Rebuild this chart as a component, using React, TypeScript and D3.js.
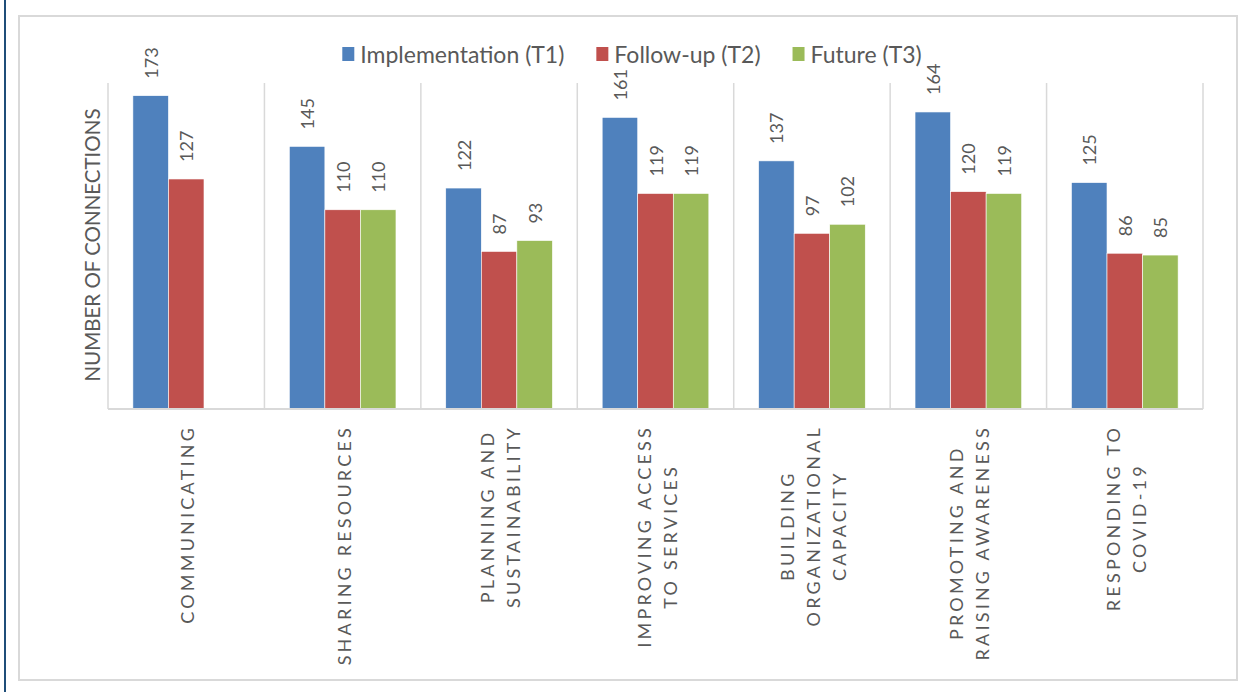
import React, { useEffect, useRef } from "react";
import * as d3 from "d3";

const categories = [
  "COMMUNICATING",
  "SHARING RESOURCES",
  "PLANNING AND SUSTAINABILITY",
  "IMPROVING ACCESS TO SERVICES",
  "BUILDING ORGANIZATIONAL CAPACITY",
  "PROMOTING AND RAISING AWARENESS",
  "RESPONDING TO COVID-19",
];
const categoryLines = [
  ["COMMUNICATING"],
  ["SHARING RESOURCES"],
  ["PLANNING AND", "SUSTAINABILITY"],
  ["IMPROVING ACCESS", "TO SERVICES"],
  ["BUILDING", "ORGANIZATIONAL", "CAPACITY"],
  ["PROMOTING AND", "RAISING AWARENESS"],
  ["RESPONDING TO", "COVID-19"],
];
const seriesNames = ["Implementation (T1)", "Follow-up (T2)", "Future (T3)"];
const seriesColors = ["#4f81bd", "#c0504d", "#9bbb59"];
const implementationT1 = [173, 145, 122, 161, 137, 164, 125];
const followUpT2 = [127, 110, 87, 119, 97, 120, 86];
const futureT3: (number | null)[] = [null, 110, 93, 119, 102, 119, 85];
const yMax = 180;
const yTitle = "NUMBER OF CONNECTIONS";

const FONT = "Lato, 'Open Sans', sans-serif";
const TEXT = "#595959";
const GRID = "#d9d9d9";

export default function App() {
  const ref = useRef<SVGSVGElement | null>(null);

  useEffect(() => {
    const W = 1245;
    const H = 692;
    const svg = d3.select(ref.current);
    svg.selectAll("*").remove();

    svg.append("rect").attr("width", W).attr("height", H).attr("fill", "#fff");
    svg
      .append("line")
      .attr("x1", 5)
      .attr("x2", 5)
      .attr("y1", 0)
      .attr("y2", H)
      .attr("stroke", "#1f4e79")
      .attr("stroke-width", 2);
    svg
      .append("rect")
      .attr("x", 19)
      .attr("y", 16)
      .attr("width", 1218)
      .attr("height", 664)
      .attr("fill", "none")
      .attr("stroke", GRID)
      .attr("stroke-width", 2);

    const x = d3.scaleBand<string>().domain(categories).range([108, 1203]).paddingInner(0).paddingOuter(0);
    const xs = d3
      .scaleBand<string>()
      .domain(seriesNames)
      .range([0, x.bandwidth()])
      .paddingInner(0)
      .paddingOuter(0.7);
    const y = d3.scaleLinear().domain([0, yMax]).range([409, 83]);

    // separators
    const bounds = categories.map((c) => x(c)!).concat([x.range()[1]]);
    svg
      .append("g")
      .selectAll("line")
      .data(bounds)
      .join("line")
      .attr("x1", (d) => d)
      .attr("x2", (d) => d)
      .attr("y1", y(yMax))
      .attr("y2", y(0))
      .attr("stroke", GRID)
      .attr("stroke-width", 1.5);

    const series = [implementationT1, followUpT2, futureT3];
    const barData: { cat: string; s: number; v: number }[] = [];
    categories.forEach((c, i) => {
      series.forEach((arr, s) => {
        const v = arr[i];
        if (v != null) barData.push({ cat: c, s, v });
      });
    });

    const bars = svg.append("g");
    bars
      .selectAll("rect")
      .data(barData)
      .join("rect")
      .attr("x", (d) => x(d.cat)! + xs(seriesNames[d.s])!)
      .attr("y", (d) => y(d.v))
      .attr("width", xs.bandwidth())
      .attr("height", (d) => y(0) - y(d.v))
      .attr("fill", (d) => seriesColors[d.s])
      .attr("stroke", "#ffffff")
      .attr("stroke-width", 0.6);

    // baseline
    svg
      .append("line")
      .attr("x1", x.range()[0])
      .attr("x2", x.range()[1])
      .attr("y1", y(0))
      .attr("y2", y(0))
      .attr("stroke", GRID)
      .attr("stroke-width", 2);

    // value labels
    svg
      .append("g")
      .selectAll("text")
      .data(barData)
      .join("text")
      .attr(
        "transform",
        (d) =>
          `translate(${x(d.cat)! + xs(seriesNames[d.s])! + xs.bandwidth() / 2},${y(d.v) - 17}) rotate(-90)`
      )
      .attr("text-anchor", "start")
      .attr("dominant-baseline", "central")
      .attr("font-family", FONT)
      .attr("font-size", 18)
      .attr("fill", TEXT)
      .text((d) => String(d.v));

    // category labels
    const lh = 26;
    categories.forEach((c, i) => {
      const lines = categoryLines[i];
      const g = svg
        .append("g")
        .attr("transform", `translate(${x(c)! + x.bandwidth() / 2 + 1},425) rotate(-90)`);
      const texts = lines.map((ln, k) =>
        g
          .append("text")
          .attr("x", 0)
          .attr("y", (k - (lines.length - 1) / 2) * lh)
          .attr("text-anchor", "end")
          .attr("dominant-baseline", "central")
          .attr("font-family", FONT)
          .attr("font-size", 18)
          .attr("letter-spacing", 3.2)
          .attr("fill", TEXT)
          .text(ln)
      );
      const widths = texts.map((t) => (t.node() as SVGTextElement).getComputedTextLength());
      const maxW = Math.max(...widths);
      texts.forEach((t, k) => t.attr("x", -(maxW - widths[k]) / 2));
    });

    // y title
    svg
      .append("text")
      .attr("transform", "translate(92,245) rotate(-90)")
      .attr("text-anchor", "middle")
      .attr("dominant-baseline", "central")
      .attr("font-family", FONT)
      .attr("font-size", 20.5)
      .attr("fill", TEXT)
      .text(yTitle);

    // legend
    const leg = svg.append("g");
    const items = seriesNames.map((n, i) => {
      const g = leg.append("g");
      g.append("rect").attr("x", 0).attr("y", -7).attr("width", 12).attr("height", 14).attr("fill", seriesColors[i]);
      const t = g
        .append("text")
        .attr("x", 18)
        .attr("y", 0)
        .attr("dominant-baseline", "central")
        .attr("font-family", FONT)
        .attr("font-size", 23)
        .attr("fill", TEXT)
        .text(n);
      const w = 18 + (t.node() as SVGTextElement).getComputedTextLength();
      return { g, w };
    });
    const gap = 32;
    const total = d3.sum(items, (d) => d.w) + gap * (items.length - 1);
    let cx = 632 - total / 2;
    items.forEach((it) => {
      it.g.attr("transform", `translate(${cx},54)`);
      cx += it.w + gap;
    });
  }, []);

  return (
    <svg
      ref={ref}
      width={1245}
      height={692}
      style={{ position: "absolute", left: 0, top: 0, display: "block" }}
    />
  );
}
